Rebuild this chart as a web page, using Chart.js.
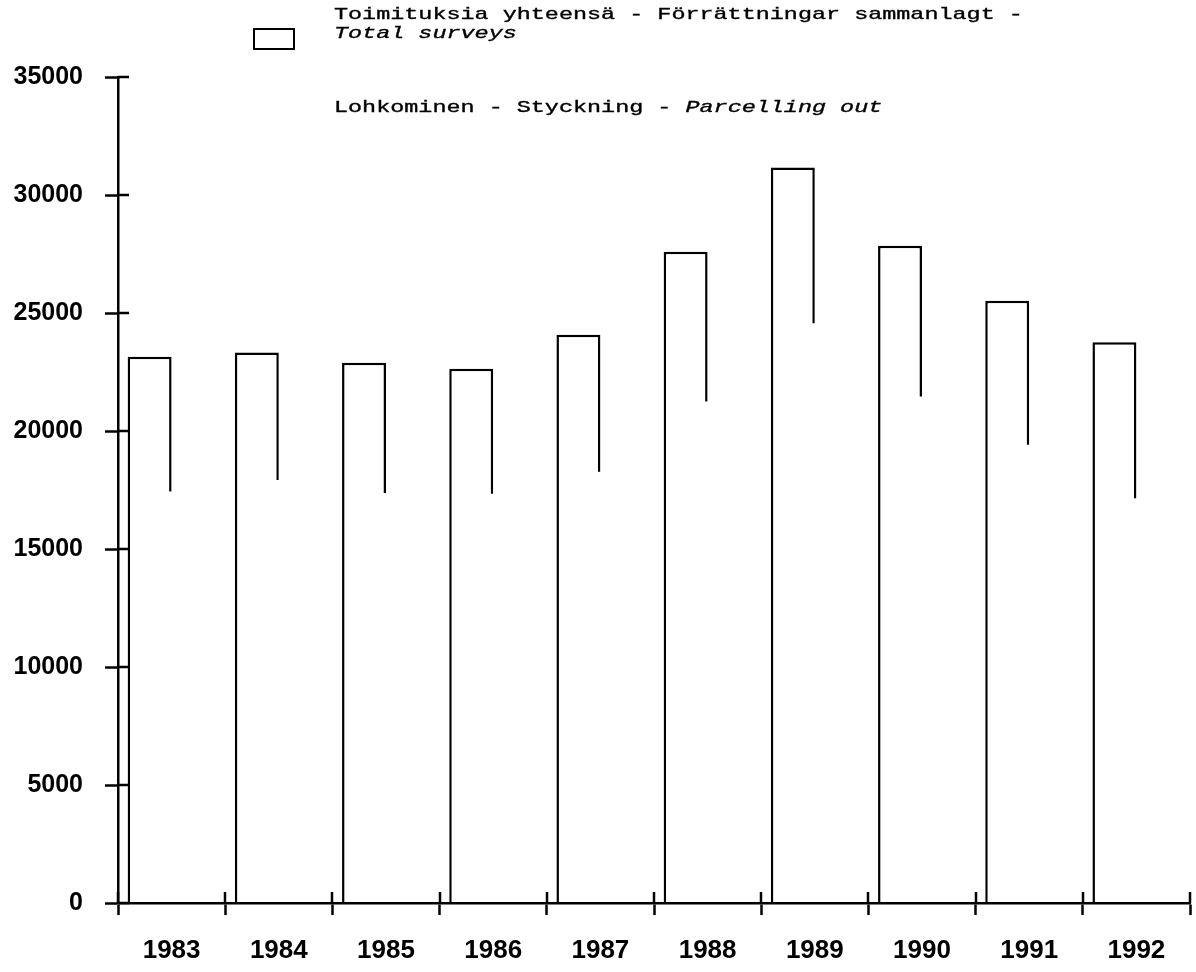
<!DOCTYPE html>
<html>
<head>
<meta charset="utf-8">
<script src="https://cdn.jsdelivr.net/npm/chart.js@4.4.1/dist/chart.umd.min.js"></script>
<style>
  html, body { margin: 0; padding: 0; background: #fff; }
  #wrap { position: relative; width: 1196px; height: 972px; background: #fff; }
  #c { position: absolute; left: 0; top: 0; }
  .lg { position: absolute; font-family: "Liberation Mono", monospace; font-size: 17px; line-height: 19px;
        color: #000; white-space: pre; transform: scaleX(1.378); transform-origin: 0 0;
        -webkit-text-stroke: 0.35px #000; }
  .lg i { font-style: italic; }
  .box { position: absolute; left: 253px; top: 28px; width: 38px; height: 18px; border: 2px solid #000; background: #fff; }
</style>
</head>
<body>
<div id="wrap">
  <canvas id="c" width="1196" height="972"></canvas>
  <div class="box"></div>
  <div class="lg" id="lg1" style="left:334px; top:5px;"></div>
  <div class="lg" id="lg2" style="left:334px; top:98px;"></div>
</div>
<script>
// ---- data ----
const years = ['1983', '1984', '1985', '1986', '1987', '1988', '1989', '1990', '1991', '1992'];
const totalSurveys = [23150, 23330, 22890, 22640, 24080, 27600, 31170, 27850, 25520, 23760];
const parcellingOut = [17290, 17780, 17220, 17190, 18130, 21100, 24420, 21310, 19270, 17000];
const yTickValues = [0, 5000, 10000, 15000, 20000, 25000, 30000, 35000];
const totalLabelPlain = 'Toimituksia yhteensä - Förrättningar sammanlagt -';
const totalLabelItalic = 'Total surveys';
const parcelLabelPlain = 'Lohkominen - Styckning - ';
const parcelLabelItalic = 'Parcelling out';

// ---- legend (real text) ----
function esc(s) { return s.replace(/&/g, '&amp;').replace(/</g, '&lt;'); }
document.getElementById('lg1').innerHTML = esc(totalLabelPlain) + '\n<i>' + esc(totalLabelItalic) + '</i>';
document.getElementById('lg2').innerHTML = esc(parcelLabelPlain) + '<i>' + esc(parcelLabelItalic) + '</i>';

// draw the parcelling bars after the total bars (they hide the lower right edge)
const lateParcel = {
  id: 'lateParcel',
  beforeDatasetDraw(chart, args) { if (args.index === 1) return false; },
  afterDatasetsDraw(chart) {
    if (!chart.isDatasetVisible(1)) return;
    const meta = chart.getDatasetMeta(1);
    const a = chart.chartArea, ctx = chart.ctx;
    ctx.save();
    ctx.beginPath();
    ctx.rect(a.left, a.top, a.right - a.left, a.bottom - a.top);
    ctx.clip();
    meta.controller.draw();
    ctx.restore();
  }
};

// tick marks that also cross into the plot area
const innerTicks = {
  id: 'innerTicks',
  afterDraw(chart) {
    const { ctx, chartArea: a } = chart;
    const x = chart.scales.x, y = chart.scales.y;
    ctx.save();
    ctx.strokeStyle = '#000';
    ctx.lineWidth = 2.5;
    ctx.beginPath();
    y.ticks.forEach(t => {
      const py = Math.round(y.getPixelForValue(t.value));
      ctx.moveTo(a.left, py);
      ctx.lineTo(a.left + 11, py);
    });
    for (let i = 0; i <= years.length; i++) {
      const px = Math.round(x.getPixelForValue(i - 0.5));
      ctx.moveTo(px, a.bottom);
      ctx.lineTo(px, a.bottom - 11);
    }
    ctx.stroke();
    ctx.restore();
  }
};

new Chart(document.getElementById('c'), {
  type: 'bar',
  data: {
    labels: years,
    datasets: [
      {
        label: totalLabelPlain + ' ' + totalLabelItalic,
        data: totalSurveys,
        backgroundColor: '#ffffff',
        borderColor: '#000000',
        borderWidth: { left: 2.5, top: 2.5, right: 2.5, bottom: 0 },
        borderSkipped: 'bottom',
        inflateAmount: 0
      },
      {
        label: parcelLabelPlain + parcelLabelItalic,
        data: parcellingOut,
        backgroundColor: '#ffffff',
        borderWidth: 0,
        inflateAmount: 3.5
      }
    ]
  },
  options: {
    responsive: false,
    animation: false,
    devicePixelRatio: 1,
    layout: { padding: { top: 77, right: 6, left: 0, bottom: 0 } },
    datasets: { bar: { categoryPercentage: 0.82, barPercentage: 1 } },
    plugins: { legend: { display: false }, tooltip: { enabled: false } },
    scales: {
      x: {
        offset: true,
        grid: { z: 1, offset: true, drawOnChartArea: false, drawTicks: true, tickLength: 12, tickWidth: 2.5, tickColor: '#000' },
        border: { z: 1, display: true, color: '#000', width: 2.5 },
        ticks: { z: 1, color: '#000', padding: 20, maxRotation: 0, autoSkip: false,
                 font: { family: 'Liberation Sans', size: 26, weight: 'bold' } },
        afterFit(s) { s.height = 69; }
      },
      y: {
        min: 0,
        max: 35000,
        afterBuildTicks(s) { s.ticks = yTickValues.map(v => ({ value: v })); },
        grid: { z: 1, drawOnChartArea: false, drawTicks: true, tickLength: 13, tickWidth: 2.5, tickColor: '#000' },
        border: { z: 1, display: true, color: '#000', width: 2.5 },
        ticks: { z: 1, color: '#000', padding: 22,
                 font: { family: 'Liberation Sans', size: 25, weight: 'bold' },
                 callback: v => String(v) },
        afterFit(s) { s.width = 118; }
      }
    }
  },
  plugins: [lateParcel, innerTicks]
});
</script>
</body>
</html>
